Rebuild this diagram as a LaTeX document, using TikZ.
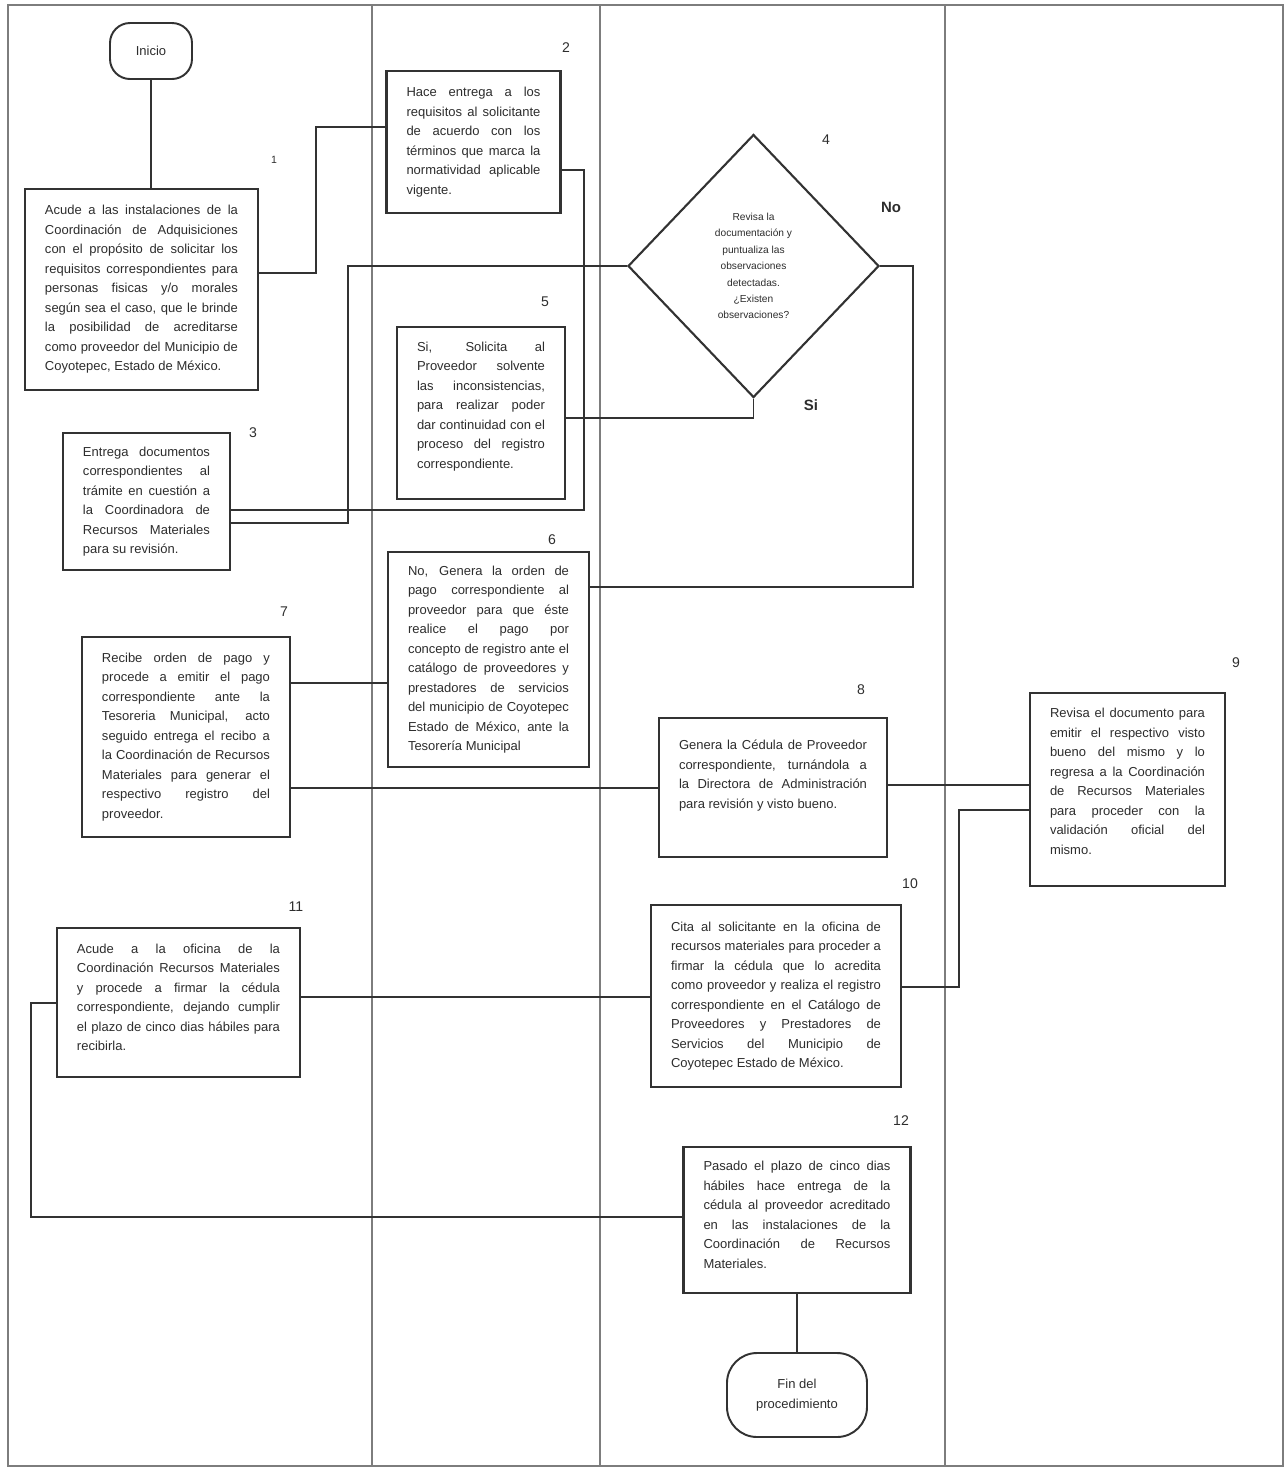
\documentclass[tikz,border=0pt]{standalone}
\usepackage{fontspec}
\setmainfont{Liberation Sans}
\usepackage{tikz}
\usetikzlibrary{shapes.geometric}
\definecolor{cTexto}{RGB}{45,45,45}
\definecolor{cBorde}{RGB}{50,50,50}
\definecolor{cCarril}{RGB}{125,125,125}
\newcommand{\fTexto}{\fontsize{7.4}{11.1}\selectfont}
\hbadness=10000
\hfuzz=20pt
\tikzstyle{fTerminal} = [rectangle, rounded corners=4mm, draw=cBorde, line width=1.1pt, fill=white, text=cTexto, align=center, font=\fTexto, inner sep=0pt]
\tikzstyle{fProceso} = [rectangle, draw=cBorde, line width=1.2pt, fill=white, text=cTexto, align=justify, font=\fTexto, inner sep=0pt]
\tikzstyle{fDecision} = [diamond, aspect=1, draw=cBorde, line width=1.2pt, fill=white, text=cTexto, align=center, font=\fontsize{5.8}{9.35}\selectfont, inner sep=0pt, minimum width=50.2mm, minimum height=52.6mm]
\tikzstyle{fLinea} = [draw=cBorde, line width=1.1pt]
\tikzstyle{fCarril} = [draw=cCarril, line width=0.6pt]
\tikzstyle{fNumero} = [text=cTexto, font=\fontsize{8}{9}\selectfont, inner sep=0pt]
\tikzstyle{fRespuesta} = [text=cTexto, font=\fontsize{8.5}{10}\selectfont\bfseries, inner sep=0pt]

\begin{document}
\begin{tikzpicture}[x=0.2mm, y=-0.2mm]
    \useasboundingbox (0,0) rectangle (1288,1469);
    % carriles
    \draw [fCarril] (8,5) rectangle (1283,1466);
    \foreach \xc in {372, 600, 945}
        \draw [fCarril] (\xc,5) -- (\xc,1466);

    \node (inicio) [fTerminal, minimum width=16.4mm, minimum height=11.2mm] at (151,51) {Inicio};
    \node (paso1) [fProceso, text width=38.6mm, minimum width=46.6mm, minimum height=40.2mm] at (141.5,289.5) {Acude a las instalaciones de la\linebreak Coordinación de Adquisiciones\linebreak con el propósito de solicitar los\linebreak requisitos correspondientes para\linebreak personas fisicas y/o morales\linebreak según sea el caso, que le brinde\linebreak la posibilidad de acreditarse\linebreak como proveedor del Municipio de\linebreak Coyotepec, Estado de México.};
    \node (paso2) [fProceso, text width=26.8mm, minimum width=34.8mm, minimum height=28.4mm] at (473.5,142) {Hace entrega a los\linebreak requisitos al solicitante\linebreak de acuerdo con los\linebreak términos que marca la\linebreak normatividad aplicable\linebreak vigente.};
    \node (paso3) [fProceso, text width=25.4mm, minimum width=33.4mm, minimum height=27.4mm] at (146.5,501.5) {Entrega documentos\linebreak correspondientes al\linebreak trámite en cuestión a\linebreak la Coordinadora de\linebreak Recursos Materiales\linebreak para su revisión.};
    \node (revision) [fDecision] at (753.5,266) {Revisa la\\documentación y\\puntualiza las\\observaciones\\detectadas.\\¿Existen\\observaciones?};
    \node (paso5) [fProceso, text width=25.6mm, minimum width=33.6mm, minimum height=34.4mm] at (481,413) {Si, Solicita al\linebreak Proveedor solvente\linebreak las inconsistencias,\linebreak para realizar poder\linebreak dar continuidad con el\linebreak proceso del registro\linebreak correspondiente.\par\vspace*{2.6mm}};
    \node (paso6) [fProceso, text width=32.2mm, minimum width=40.2mm, minimum height=43mm] at (488.5,659.5) {No, Genera la orden de\linebreak pago correspondiente al\linebreak proveedor para que éste\linebreak realice el pago por\linebreak concepto de registro ante el\linebreak catálogo de proveedores y\linebreak prestadores de servicios\linebreak del municipio de Coyotepec\linebreak Estado de México, ante la\linebreak Tesorería Municipal};
    \node (paso7) [fProceso, text width=33.6mm, minimum width=41.6mm, minimum height=40mm] at (186,737) {Recibe orden de pago y\linebreak procede a emitir el pago\linebreak correspondiente ante la\linebreak Tesoreria Municipal, acto\linebreak seguido entrega el recibo a\linebreak la Coordinación de Recursos\linebreak Materiales para generar el\linebreak respectivo registro del\linebreak proveedor.};
    \node (paso8) [fProceso, text width=37.6mm, minimum width=45.6mm, minimum height=27.8mm] at (773,787.5) {Genera la Cédula de Proveedor\linebreak correspondiente, turnándola a\linebreak la Directora de Administración\linebreak para revisión y visto bueno.\par\vspace*{4.8mm}};
    \node (paso9) [fProceso, text width=31mm, minimum width=39mm, minimum height=38.6mm] at (1127.5,789.5) {Revisa el documento para\linebreak emitir el respectivo visto\linebreak bueno del mismo y lo\linebreak regresa a la Coordinación\linebreak de Recursos Materiales\linebreak para proceder con la\linebreak validación oficial del\linebreak mismo.\par\vspace*{3.2mm}};
    \node (paso10) [fProceso, text width=42mm, minimum width=50mm, minimum height=36.4mm] at (776,996) {Cita al solicitante en la oficina de\linebreak recursos materiales para proceder a\linebreak firmar la cédula que lo acredita\linebreak como proveedor y realiza el registro\linebreak correspondiente en el Catálogo de\linebreak Proveedores y Prestadores de\linebreak Servicios del Municipio de\linebreak Coyotepec Estado de México.};
    \node (paso11) [fProceso, text width=40.6mm, minimum width=48.6mm, minimum height=29.8mm] at (178.5,1002.5) {Acude a la oficina de la\linebreak Coordinación Recursos Materiales\linebreak y procede a firmar la cédula\linebreak correspondiente, dejando cumplir\linebreak el plazo de cinco dias hábiles para\linebreak recibirla.\par\vspace*{2mm}};
    \node (paso12) [fProceso, text width=37.4mm, minimum width=45.4mm, minimum height=29.2mm] at (797,1220) {Pasado el plazo de cinco dias\linebreak hábiles hace entrega de la\linebreak cédula al proveedor acreditado\linebreak en las instalaciones de la\linebreak Coordinación de Recursos\linebreak Materiales.\par\vspace*{2mm}};
    \node (fin) [fTerminal, rounded corners=6mm, minimum width=28mm, minimum height=16.8mm] at (797,1395) {Fin del\\procedimiento};

    \node (num1) [fNumero, font=\fontsize{6}{7}\selectfont] at (274,160) {1};
    \node (num2) [fNumero] at (566,48) {2};
    \node (num3) [fNumero] at (253,433) {3};
    \node (num4) [fNumero] at (826,140) {4};
    \node (num5) [fNumero] at (545,302) {5};
    \node (num6) [fNumero] at (552,540) {6};
    \node (num7) [fNumero] at (284,612) {7};
    \node (num8) [fNumero] at (861,690) {8};
    \node (num9) [fNumero] at (1236,663) {9};
    \node (num10) [fNumero] at (910,884) {10};
    \node (num11) [fNumero] at (296,907) {11};
    \node (num12) [fNumero] at (901,1121) {12};
    \node (resNo) [fRespuesta] at (891,207) {No};
    \node (resSi) [fRespuesta] at (811,405) {Si};

    \draw [fLinea] (inicio.south) -- (inicio.south |- paso1.north);
    \draw [fLinea] (paso1.east |- 0,273) -- ++(57,0) |- (paso2.west |- 0,127);
    \draw [fLinea] (paso2.east |- 0,170) -- ++(22,0) |- (paso3.east |- 0,510);
    \draw [fLinea] (paso3.east |- 0,523) -- ++(117,0) |- (revision.west);
    \draw [fLinea] (revision.south) |- (paso5.east |- 0,418);
    \draw [fLinea] (revision.east) -- ++(33,0) |- (paso6.east |- 0,587);
    \draw [fLinea] (paso6.west |- 0,683) -- (paso7.east |- 0,683);
    \draw [fLinea] (paso7.east |- 0,788) -- (paso8.west |- 0,788);
    \draw [fLinea] (paso8.east |- 0,785) -- (paso9.west |- 0,785);
    \draw [fLinea] (paso9.west |- 0,810) -- ++(-70,0) |- (paso10.east |- 0,987);
    \draw [fLinea] (paso10.west |- 0,997) -- (paso11.east |- 0,997);
    \draw [fLinea] (paso11.west |- 0,1003) -- ++(-25,0) |- (paso12.west |- 0,1217);
    \draw [fLinea] (paso12.south) -- (fin.north);
\end{tikzpicture}
\end{document}
